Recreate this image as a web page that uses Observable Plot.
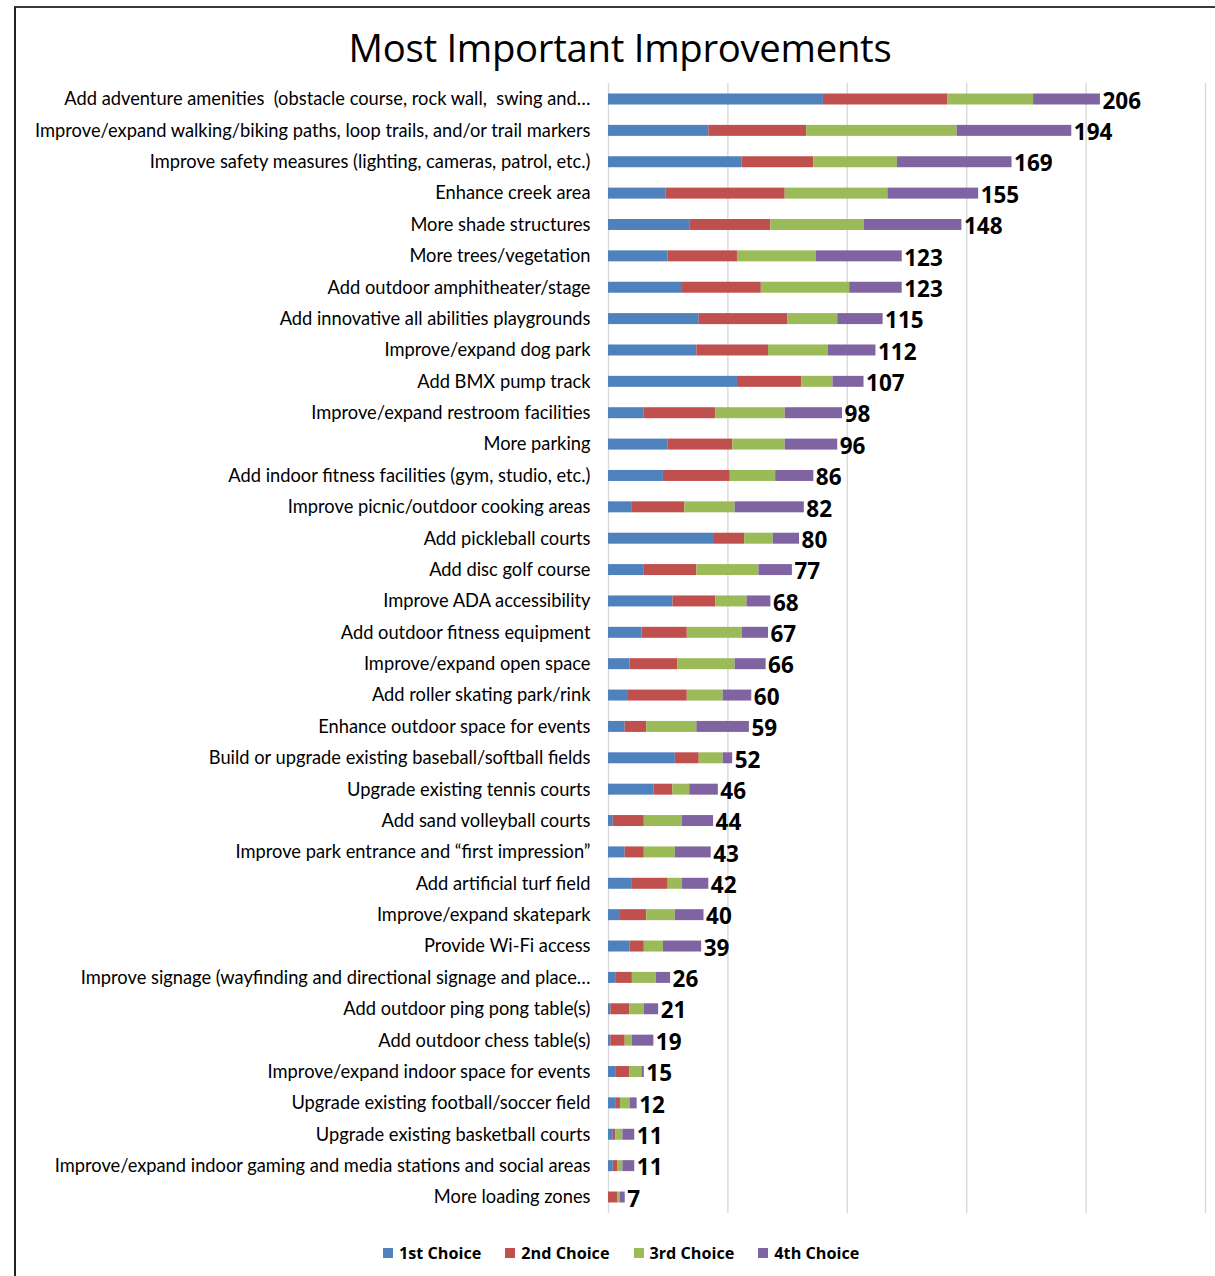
<!DOCTYPE html>
<html>
<head>
<meta charset="utf-8">
<script src="https://cdn.jsdelivr.net/npm/d3@7"></script>
<script src="https://cdn.jsdelivr.net/npm/@observablehq/plot@0.6"></script>
<style>
  html, body { margin: 0; padding: 0; background: #fff; }
  body { width: 1215px; height: 1276px; position: relative; overflow: hidden; font-family: Lato, "Open Sans", sans-serif; }
  #frame { position: absolute; left: 14px; top: 6px; width: 1215px; height: 1280px; border-top: 2px solid #3a3a3a; border-left: 2px solid #222; }
  #title { position: absolute; left: 0; width: 1240px; top: 22px; text-align: center; font-family: "Open Sans", Lato, sans-serif; font-size: 38.3px; color: #000; line-height: 50px; letter-spacing: -0.3px; }
  #chart { position: absolute; left: 0; top: 70px; }
  #legend { position: absolute; top: 1241px; left: 383px; display: flex; gap: 0; font-family: "Open Sans", Lato, sans-serif; font-weight: bold; font-size: 16.2px; color: #000; line-height: 24px; }
  .item { display: flex; align-items: center; margin-right: 24px; }
  .sw { width: 10px; height: 10px; margin-right: 6px; }
</style>
</head>
<body>
<div id="frame"></div>
<div id="title">Most Important Improvements</div>
<div id="chart"></div>
<div id="legend"></div>
<script>
const categories = [
  "Add adventure amenities  (obstacle course, rock wall,  swing and…",
  "Improve/expand walking/biking paths, loop trails, and/or trail markers",
  "Improve safety measures (lighting, cameras, patrol, etc.)",
  "Enhance creek area",
  "More shade structures",
  "More trees/vegetation",
  "Add outdoor amphitheater/stage",
  "Add innovative all abilities playgrounds",
  "Improve/expand dog park",
  "Add BMX pump track",
  "Improve/expand restroom facilities",
  "More parking",
  "Add indoor fitness facilities (gym, studio, etc.)",
  "Improve picnic/outdoor cooking areas",
  "Add pickleball courts",
  "Add disc golf course",
  "Improve ADA accessibility",
  "Add outdoor fitness equipment",
  "Improve/expand open space",
  "Add roller skating park/rink",
  "Enhance outdoor space for events",
  "Build or upgrade existing baseball/softball fields",
  "Upgrade existing tennis courts",
  "Add sand volleyball courts",
  "Improve park entrance and \u201cfirst impression\u201d",
  "Add artificial turf field",
  "Improve/expand skatepark",
  "Provide Wi-Fi access",
  "Improve signage (wayfinding and directional signage and place…",
  "Add outdoor ping pong table(s)",
  "Add outdoor chess table(s)",
  "Improve/expand indoor space for events",
  "Upgrade existing football/soccer field",
  "Upgrade existing basketball courts",
  "Improve/expand indoor gaming and media stations and social areas",
  "More loading zones"
];
const firstChoice  = [90,42,56,24,34,25,31,38,37,54,15,25,23,10,44,15,27,14, 9, 8, 7,28,19, 2, 7,10, 5, 9, 3,1,1,3,3,2,2,0];
const secondChoice = [52,41,30,50,34,29,33,37,30,27,30,27,28,22,13,22,18,19,20,25, 9,10, 8,13, 8,15,11, 6, 7,8,6,6,2,1,2,4];
const thirdChoice  = [36,63,35,43,39,33,37,21,25,13,29,22,19,21,12,26,13,23,24,15,21,10, 7,16,13, 6,12, 8,10,6,3,5,4,3,2,1];
const fourthChoice = [28,48,48,38,41,36,22,19,20,13,24,22,16,29,11,14,10,11,13,12,22, 4,12,13,15,11,12,16, 6,6,9,1,3,5,5,2];
const seriesNames = ["1st Choice", "2nd Choice", "3rd Choice", "4th Choice"];
const seriesColors = ["#4F81BD", "#C0504D", "#9BBB59", "#8064A2"];
const gridTicks = [0, 50, 100, 150, 200, 250];

const seriesValues = [firstChoice, secondChoice, thirdChoice, fourthChoice];
const data = categories.flatMap((c, i) =>
  seriesNames.map((s, j) => ({category: c, series: s, value: seriesValues[j][i]}))
);
const totals = categories.map((c, i) => ({
  category: c,
  total: d3.sum(seriesValues, v => v[i])
}));

const chart = Plot.plot({
  width: 1215,
  height: 1153,
  marginLeft: 608,
  marginRight: 10,
  marginTop: 13,
  marginBottom: 10,
  style: {fontFamily: "Lato, 'Open Sans', sans-serif", background: "transparent", overflow: "visible"},
  x: {domain: [0, 250], axis: null},
  y: {domain: categories, paddingInner: 0.65, paddingOuter: 0.335, round: false, axis: null},
  color: {domain: seriesNames, range: seriesColors},
  marks: [
    Plot.ruleX(gridTicks, {stroke: "#d9d9d9", strokeWidth: 1.4}),
    Plot.barX(data, {x: "value", y: "category", fill: "series"}),
    Plot.axisY({tickSize: 0, tickPadding: 18, fontSize: 18.3, fill: "#000", label: null, textAnchor: "end"}),
    Plot.text(totals, {x: "total", y: "category", text: d => String(d.total), textAnchor: "start", dx: 2, dy: 2, fontSize: 22.5, fontWeight: "bold", fill: "#000", fontFamily: "'Open Sans', Lato, sans-serif"})
  ]
});
document.getElementById("chart").appendChild(chart);

const legend = document.getElementById("legend");
seriesNames.forEach((s, i) => {
  const item = document.createElement("div");
  item.className = "item";
  const sw = document.createElement("div");
  sw.className = "sw";
  sw.style.background = seriesColors[i];
  const label = document.createElement("span");
  label.textContent = s;
  item.appendChild(sw);
  item.appendChild(label);
  legend.appendChild(item);
});
</script>
</body>
</html>
